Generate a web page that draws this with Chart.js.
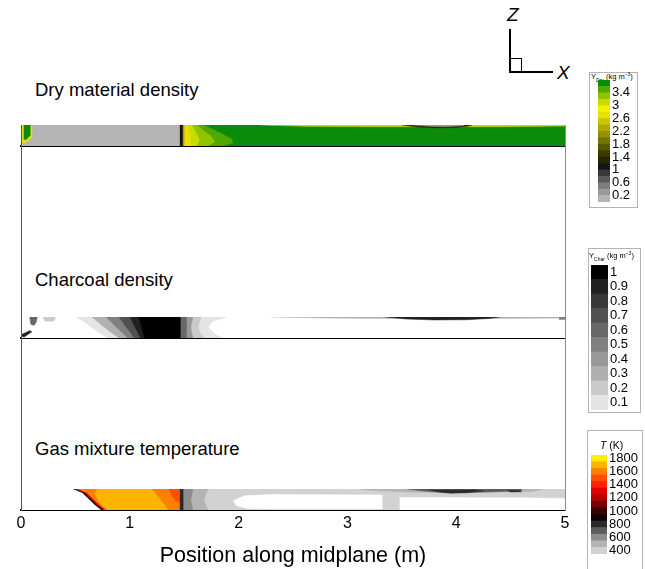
<!DOCTYPE html>
<html>
<head>
<meta charset="utf-8">
<script src="https://cdn.jsdelivr.net/npm/chart.js@4.4.1/dist/chart.umd.min.js"></script>
<style>
    body {
        margin: 0;
        width: 645px;
        height: 569px;
        position: relative;
        overflow: hidden;
        background: #fff;
        font-family: 'Liberation Sans', Arial, sans-serif;
        color: #000;
    }
    canvas { position: absolute; }
    .title { position: absolute; left: 35px; font-size: 18.5px; line-height: 20px; white-space: nowrap; }
    .frame { position: absolute; left: 21px; top: 125px; width: 545px; height: 386px; box-sizing: border-box;
             border-left: 1px solid #555; border-right: 1px solid #8c8c8c; z-index: 5; pointer-events: none; }
    .cbox { position: absolute; border: 1px solid #b4b4b4; box-sizing: border-box; }
    .ctitle { position: absolute; font-size: 7.5px; line-height: 9px; white-space: nowrap; }
    .ctitle sub, .ctitle sup { font-size: 5px; line-height: 0; }
    .triad { position: absolute; background: #000; }
    .axlabel { position: absolute; font-size: 19px; font-style: italic; line-height: 20px; }
</style>
</head>
<body>

<div class="title" style="top:80px">Dry material density</div>
<div class="title" style="top:270px">Charcoal density</div>
<div class="title" style="top:439px">Gas mixture temperature</div>

<canvas id="axis" width="585" height="151" style="left:0;top:423px"></canvas>
<canvas id="dry" width="585" height="41" style="left:0;top:115px"></canvas>
<canvas id="char" width="585" height="41" style="left:0;top:307px"></canvas>
<canvas id="gas" width="585" height="41" style="left:0;top:479px"></canvas>
<div class="frame"></div>

<!-- colour legends -->
<div class="cbox" style="left:589px;top:72px;width:49px;height:136px"></div>
<div class="ctitle" style="left:591px;top:72px">Y<sub>Dry</sub> (kg m<sup>−3</sup>)</div>
<canvas id="dryBar" width="48" height="146" style="left:590px;top:68px"></canvas>

<div class="cbox" style="left:588px;top:248px;width:53px;height:165px"></div>
<div class="ctitle" style="left:589px;top:251px">Y<sub>Char</sub> (kg m<sup>−3</sup>)</div>
<canvas id="charBar" width="58" height="175" style="left:583px;top:250px"></canvas>

<div class="cbox" style="left:587px;top:430px;width:56px;height:150px"></div>
<div class="ctitle" style="left:600px;top:439px;font-size:10.5px;line-height:12px"><i>T</i> (K)</div>
<canvas id="gasBar" width="62" height="129" style="left:583px;top:440px"></canvas>

<!-- coordinate triad -->
<div class="triad" style="left:509px;top:29px;width:1.5px;height:43px"></div>
<div class="triad" style="left:509px;top:71px;width:44px;height:1.5px"></div>
<div style="position:absolute;left:509px;top:58px;width:13px;height:13px;border:1px solid #000;border-left:none;border-bottom:none;box-sizing:border-box"></div>
<div class="axlabel" style="left:507px;top:5px">Z</div>
<div class="axlabel" style="left:557px;top:63px">X</div>

<script>
// Axis ticks along the midplane (m)
const X_TICKS = [0, 1, 2, 3, 4, 5];

// Dry material density (kg m-3): level boundaries, legend labels, band colours
const DRY_LEVELS = [0, 0.2, 0.4, 0.6, 0.8, 1.0, 1.2, 1.4, 1.6, 1.8, 2.0, 2.2, 2.4, 2.6, 2.8, 3.0, 3.2, 3.4, 3.6, 3.8];
const DRY_TICKS = [0.2, 0.6, 1, 1.4, 1.8, 2.2, 2.6, 3, 3.4];
const DRY_COLORS = ['#b4b4b4', '#9a9a9a', '#7c7c7c', '#5a5a5a', '#383838', '#141414', '#262600', '#3c3c00',
    '#585800', '#767400', '#949000', '#b0aa00', '#ccc400', '#e8e000', '#f5f000', '#c8dc00', '#90c400',
    '#50a800', '#0a8c0a'];

// Charcoal density (kg m-3)
const CHAR_LEVELS = [0.05, 0.15, 0.25, 0.35, 0.45, 0.55, 0.65, 0.75, 0.85, 0.95, 1.05];
const CHAR_TICKS = [0.1, 0.2, 0.3, 0.4, 0.5, 0.6, 0.7, 0.8, 0.9, 1];
const CHAR_COLORS = ['#e4e4e4', '#cacaca', '#b0b0b0', '#989898', '#808080', '#686868', '#505050',
    '#383838', '#202020', '#000000'];

// Gas mixture temperature (K)
const GAS_LEVELS = [350, 450, 550, 650, 750, 850, 950, 1050, 1150, 1250, 1350, 1450, 1550, 1650, 1750, 1850];
const GAS_TICKS = [400, 600, 800, 1000, 1200, 1400, 1600, 1800];
const GAS_COLORS = ['#d2d2d2', '#b4b4b4', '#8c8c8c', '#5c5c5c', '#2a2a2a', '#100000', '#3c0000', '#780000',
    '#b00000', '#e00000', '#ff2000', '#ff5000', '#ff8000', '#ffb400', '#ffee00'];

// Contour regions: outlines as [x (m), z (0 bottom .. 1 top)] and the field value inside each
const DRY_REGIONS = [
    [[0, 0], [5, 0], [5, 1], [0, 1]],
    [[0, 0], [1.47, 0], [1.47, 1], [0, 1]],
    [[1.47, 0], [1.85, 0], [1.95, 0.15], [1.93, 0.35], [1.84, 0.6], [1.74, 0.85], [1.68, 1], [1.47, 1]],
    [[1.47, 0], [1.72, 0], [1.78, 0.2], [1.74, 0.5], [1.66, 0.8], [1.62, 1], [1.47, 1]],
    [[1.47, 0], [1.62, 0], [1.64, 0.3], [1.6, 0.7], [1.57, 1], [1.47, 1]],
    [[1.47, 0], [1.56, 0], [1.56, 0.5], [1.53, 1], [1.47, 1]],
    [[1.47, 0], [1.5, 0], [1.5, 1], [1.47, 1]],
    [[1.46, 0], [1.485, 0], [1.485, 1], [1.46, 1]],
    [[2.2, 1], [2.6, 0.94], [3.3, 0.92], [4.4, 0.92], [5, 0.95], [5, 1]],
    [[3.5, 1], [3.65, 0.9], [3.85, 0.86], [4.0, 0.88], [4.1, 0.94], [4.15, 1]],
    [[3.6, 1], [3.75, 0.94], [3.9, 0.92], [4.05, 0.96], [4.08, 1]],
    [[0.01, 0.15], [0.04, 0.15], [0.1, 0.42], [0.1, 1], [0.01, 1]],
    [[0.025, 0.32], [0.045, 0.3], [0.085, 0.5], [0.085, 1], [0.025, 1]]
];
const DRY_VALUES = [3.7, 0.1, 3.5, 3.3, 3.1, 2.7, 2.3, 1.1, 3.1, 1.3, 0.3, 2.7, 3.6];

const CHAR_REGIONS = [
    [[0, 0], [5, 0], [5, 1], [0, 1]],
    [[0.5, 1], [1.47, 1], [1.47, 0], [0.8, 0], [0.7, 0.3], [0.6, 0.7]],
    [[0.65, 1], [1.47, 1], [1.47, 0], [0.9, 0], [0.82, 0.3], [0.72, 0.7]],
    [[0.78, 1], [1.47, 1], [1.47, 0], [0.98, 0], [0.92, 0.3], [0.84, 0.7]],
    [[0.9, 1], [1.47, 1], [1.47, 0], [1.04, 0], [1.0, 0.3], [0.94, 0.7]],
    [[1.0, 1], [1.47, 1], [1.47, 0], [1.1, 0], [1.07, 0.3], [1.03, 0.7]],
    [[1.08, 1], [1.47, 1], [1.47, 0], [1.14, 0], [1.12, 0.3], [1.1, 0.7]],
    [[1.47, 0], [1.85, 0], [1.78, 0.2], [1.72, 0.5], [1.76, 0.8], [1.9, 1], [1.47, 1]],
    [[1.47, 0], [1.68, 0], [1.64, 0.3], [1.63, 0.6], [1.66, 1], [1.47, 1]],
    [[1.47, 0], [1.58, 0], [1.56, 0.5], [1.58, 1], [1.47, 1]],
    [[1.47, 0], [1.52, 0], [1.52, 1], [1.47, 1]],
    [[2.3, 1], [2.8, 0.95], [3.4, 0.93], [4.3, 0.93], [5, 0.95], [5, 1]],
    [[3.35, 1], [3.55, 0.9], [3.8, 0.86], [4.1, 0.87], [4.3, 0.93], [4.4, 1]],
    [[4.95, 1], [4.95, 0.88], [5, 0.88], [5, 1]],
    [[0, 0.08], [0.03, 0.05], [0.1, 0.3], [0.08, 0.35], [0, 0.15]],
    [[0.08, 1], [0.09, 0.65], [0.12, 0.6], [0.14, 0.75], [0.15, 1]],
    [[0.2, 1], [0.22, 0.8], [0.3, 0.8], [0.32, 1]]
];
const CHAR_VALUES = [0, 0.1, 0.3, 0.5, 0.7, 0.9, 1.0, 0.1, 0.2, 0.4, 0.6, 0.3, 0.9, 0.5, 0.9, 0.6, 0.2];

const GAS_REGIONS = [
    [[0, 0], [5, 0], [5, 1], [0, 1]],
    [[1.47, 0], [5, 0], [5, 1], [1.47, 1]],
    [[1.95, 0.45], [1.98, 0.2], [2.08, 0.07], [2.3, 0.05], [3.32, 0.05], [3.32, 0.72], [2.3, 0.74], [2.05, 0.68]],
    [[3.48, 0], [5, 0], [5, 0.55], [4.6, 0.58], [3.48, 0.6]],
    [[1.47, 0], [1.72, 0], [1.68, 0.5], [1.72, 1], [1.47, 1]],
    [[1.47, 0], [1.58, 0], [1.56, 0.5], [1.58, 1], [1.47, 1]],
    [[3.1, 1], [3.25, 0.92], [3.6, 0.85], [4.2, 0.84], [4.7, 0.88], [4.8, 1]],
    [[3.55, 1], [3.7, 0.9], [3.9, 0.82], [4.3, 0.86], [4.6, 0.92], [4.6, 1]],
    [[3.75, 0.97], [3.85, 0.86], [3.95, 0.8], [4.1, 0.82], [4.25, 0.9], [4.15, 0.97]],
    [[4.47, 0.94], [4.5, 0.86], [4.6, 0.87], [4.58, 0.94]],
    [[0.48, 1], [1.47, 1], [1.47, 0], [0.74, 0], [0.68, 0.25], [0.62, 0.55], [0.57, 0.8]],
    [[0.5, 1], [1.47, 1], [1.47, 0], [0.76, 0], [0.7, 0.25], [0.64, 0.55], [0.59, 0.8]],
    [[0.52, 1], [1.47, 1], [1.47, 0], [0.78, 0], [0.72, 0.25], [0.66, 0.55], [0.61, 0.8]],
    [[0.7, 1], [1.2, 1], [1.28, 0.5], [1.35, 0], [0.8, 0], [0.74, 0.25], [0.7, 0.55], [0.68, 0.8]],
    [[1.36, 1], [1.47, 1], [1.47, 0.35], [1.42, 0.45], [1.38, 0.7]],
    [[1.46, 0], [1.49, 0], [1.49, 1], [1.46, 1]]
];
const GAS_VALUES = [300, 400, 300, 300, 500, 600, 500, 700, 800, 800, 900, 1250, 1600, 1700, 1500, 800];

// Pick the legend band colour for a field value (white below the lowest level)
function bandColor(value, levels, colors) {
    for (let i = 0; i < colors.length; i++) {
        if (value >= levels[i] && value < levels[i + 1]) return colors[i];
    }
    return value >= levels[levels.length - 1] ? colors[colors.length - 1] : '#ffffff';
}

function regionDatasets(regions, values, levels, colors) {
    return regions.map((pts, i) => {
        const c = bandColor(values[i], levels, colors);
        return {
            data: pts.map(([x, z]) => ({ x: x, y: z })),
            fill: 'shape',
            backgroundColor: c,
            borderColor: c,
            borderWidth: 0.5,
            pointRadius: 0,
            tension: 0,
            order: regions.length - i   // first region is painted first
        };
    });
}

Chart.defaults.font.family = "'Liberation Sans', Arial, sans-serif";
Chart.defaults.color = '#000';

const PLOT_PADDING = { left: 21, right: 20, top: 10, bottom: 10 };

// One thin contour strip: grey top edge, heavy black bottom edge
function drawStrip(id, datasets) {
    return new Chart(document.getElementById(id), {
        type: 'line',
        data: { datasets: datasets },
        options: {
            responsive: false,
            animation: false,
            events: [],
            layout: { padding: PLOT_PADDING },
            plugins: { legend: { display: false }, tooltip: { enabled: false } },
            scales: {
                x: {
                    type: 'linear', min: 0, max: 5, position: 'bottom',
                    grid: { display: false, drawTicks: false },
                    ticks: { display: false },
                    border: { display: true, color: '#000', width: 2 }
                },
                xTop: {
                    type: 'linear', min: 0, max: 5, position: 'top',
                    grid: { display: false, drawTicks: false },
                    ticks: { display: false },
                    border: { display: true, color: '#8c8c8c', width: 1 }
                },
                y: { type: 'linear', min: 0, max: 1, display: false }
            }
        }
    });
}

drawStrip('dry', regionDatasets(DRY_REGIONS, DRY_VALUES, DRY_LEVELS, DRY_COLORS));
drawStrip('char', regionDatasets(CHAR_REGIONS, CHAR_VALUES, CHAR_LEVELS, CHAR_COLORS));
drawStrip('gas', regionDatasets(GAS_REGIONS, GAS_VALUES, GAS_LEVELS, GAS_COLORS));

// Shared position axis under the last strip
new Chart(document.getElementById('axis'), {
    type: 'line',
    data: { datasets: [] },
    options: {
        responsive: false,
        animation: false,
        events: [],
        layout: { padding: { left: 21, right: 20, top: 0, bottom: 5 } },
        plugins: { legend: { display: false }, tooltip: { enabled: false } },
        scales: {
            x: {
                type: 'linear', min: 0, max: 5, position: 'bottom',
                afterBuildTicks: s => { s.ticks = X_TICKS.map(v => ({ value: v })); },
                grid: { display: false, drawTicks: false },
                border: { display: false },
                ticks: { font: { size: 16 }, padding: 2, maxRotation: 0, autoSkip: false },
                title: { display: true, text: 'Position along midplane (m)', font: { size: 21.5 }, padding: { top: 8, bottom: 0 } }
            },
            y: { type: 'linear', min: 0, max: 1, display: false }
        }
    }
});

// Legend bars: one floating bar per level band on a value axis
function drawColorbar(id, levels, colors, ticks, axisWidth, padding) {
    return new Chart(document.getElementById(id), {
        type: 'bar',
        data: {
            labels: [''],
            datasets: colors.map((c, i) => ({
                data: [[levels[i], levels[i + 1]]],
                backgroundColor: c,
                borderWidth: 0,
                barPercentage: 1,
                categoryPercentage: 1,
                grouped: false
            }))
        },
        options: {
            responsive: false,
            animation: false,
            events: [],
            layout: { padding: padding },
            plugins: { legend: { display: false }, tooltip: { enabled: false } },
            scales: {
                x: { display: false },
                y: {
                    position: 'right',
                    min: levels[0],
                    max: levels[levels.length - 1],
                    afterBuildTicks: s => { s.ticks = ticks.map(v => ({ value: v })); },
                    afterFit: s => { s.width = axisWidth; },
                    grid: { display: false, drawTicks: false },
                    border: { display: false },
                    ticks: { font: { size: 13 }, padding: 2, autoSkip: false, callback: v => String(v) }
                }
            }
        }
    });
}

drawColorbar('dryBar', DRY_LEVELS, DRY_COLORS, DRY_TICKS, 28, { left: 8, right: 0, top: 12, bottom: 12 });
drawColorbar('charBar', CHAR_LEVELS, CHAR_COLORS, CHAR_TICKS, 33, { left: 8, right: 0, top: 15, bottom: 15 });
drawColorbar('gasBar', GAS_LEVELS, GAS_COLORS, GAS_TICKS, 38, { left: 8, right: 0, top: 15, bottom: 15 });
</script>
</body>
</html>
